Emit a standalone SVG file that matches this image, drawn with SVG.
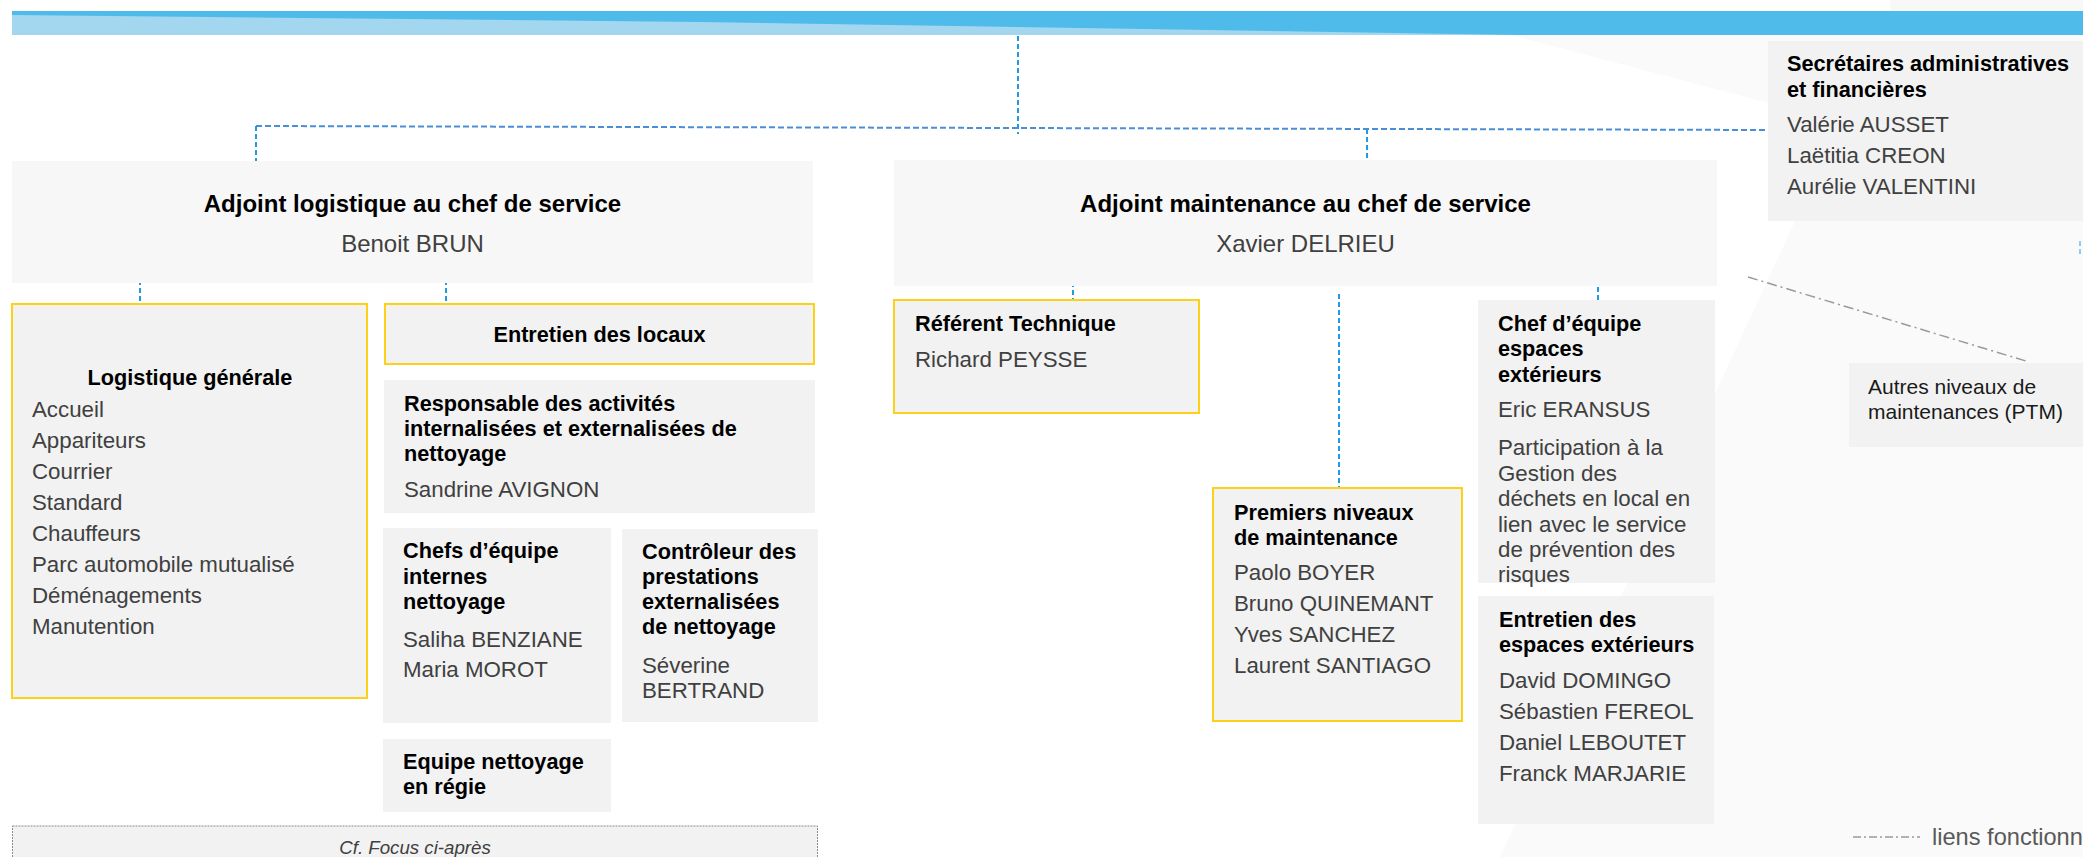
<svg xmlns="http://www.w3.org/2000/svg" width="2083" height="857" viewBox="0 0 2083 857">
<style>
text{font-family:"Liberation Sans",Arial,sans-serif}
.hd{font-size:24px;font-weight:bold;fill:#000}
.hn{font-size:24px;fill:#404040}
.t{font-size:21.7px;font-weight:bold;fill:#000}
.n{font-size:22.3px;fill:#404040}
.box{fill:#f2f2f2}
.main{fill:#f7f7f7}
.ybox{fill:#f2f2f2;stroke:#fcd116;stroke-width:2}
.v{stroke:#1e9be3;stroke-width:2;stroke-dasharray:5 3;fill:none}
.h{stroke:#4a8fd6;stroke-width:2;stroke-dasharray:6 3;fill:none}
.f{stroke:#9a9a9a;stroke-width:1.5;stroke-dasharray:10 4 2 4;fill:none}
.mid{text-anchor:middle}
</style>
<rect width="2083" height="857" fill="#ffffff"/>
<g id="background">
<polygon points="1511,35 2083,35 2083,857 1500,857 1841,122" fill="#fafafa"/>
<polygon points="1890,0 2083,0 2083,11 1890,11" fill="#f8f8f8"/>
</g>
<g id="banner">
<rect x="12" y="11" width="2071" height="24" fill="#a3d7ef"/>
<polygon points="12,11 2083,11 2083,35 1520,35 700,22 12,15" fill="#4ebbea"/>
</g>
<g id="connectors">
<line class="v" x1="1018" y1="36" x2="1018" y2="134"/>
<line class="h" x1="256" y1="126" x2="1768" y2="130"/>
<line class="v" x1="256" y1="126" x2="256" y2="161"/>
<line class="v" x1="1367" y1="129" x2="1367" y2="161"/>
<line class="v" x1="140" y1="280" x2="140" y2="304"/>
<line class="v" x1="446" y1="280" x2="446" y2="303"/>
<line class="v" x1="1073" y1="282" x2="1073" y2="300"/>
<line class="v" x1="1339" y1="294" x2="1339" y2="488"/>
<line class="v" x1="1598" y1="279" x2="1598" y2="300"/>
<line class="v" x1="2080" y1="241" x2="2080" y2="256" style="stroke:#8fcbef"/>
<line class="f" x1="1748" y1="277" x2="2026" y2="361"/>
</g>
<g id="adjoint-logistique">
<rect class="main" x="12" y="161" width="801" height="122"/>
<text class="hd mid" x="412.5" y="212">Adjoint logistique au chef de service</text>
<text class="hn mid" x="412.5" y="252">Benoit BRUN</text>
</g>
<g id="adjoint-maintenance">
<rect class="main" x="894" y="160" width="823" height="126"/>
<text class="hd mid" x="1305.5" y="212">Adjoint maintenance au chef de service</text>
<text class="hn mid" x="1305.5" y="252">Xavier DELRIEU</text>
</g>
<g id="secretaires">
<rect class="box" x="1768" y="41" width="330" height="180"/>
<text class="t" x="1787" y="71">Secrétaires administratives</text>
<text class="t" x="1787" y="97">et financières</text>
<text class="n" x="1787" y="132">Valérie AUSSET</text>
<text class="n" x="1787" y="163">Laëtitia CREON</text>
<text class="n" x="1787" y="194">Aurélie VALENTINI</text>
</g>
<g id="logistique-generale">
<rect class="ybox" x="12" y="304" width="355" height="394"/>
<text class="t mid" x="190" y="385">Logistique générale</text>
<text class="n" x="32" y="417">Accueil</text>
<text class="n" x="32" y="448">Appariteurs</text>
<text class="n" x="32" y="479">Courrier</text>
<text class="n" x="32" y="510">Standard</text>
<text class="n" x="32" y="541">Chauffeurs</text>
<text class="n" x="32" y="572">Parc automobile mutualisé</text>
<text class="n" x="32" y="603">Déménagements</text>
<text class="n" x="32" y="634">Manutention</text>
</g>
<g id="entretien-locaux">
<rect class="ybox" x="385" y="304" width="429" height="60"/>
<text class="t mid" x="599.5" y="342">Entretien des locaux</text>
</g>
<g id="responsable">
<rect class="box" x="384" y="380" width="431" height="133"/>
<text class="t" x="404" y="411">Responsable des activités</text>
<text class="t" x="404" y="436">internalisées et externalisées de</text>
<text class="t" x="404" y="461">nettoyage</text>
<text class="n" x="404" y="497">Sandrine AVIGNON</text>
</g>
<g id="chefs-equipe-internes">
<rect class="box" x="383" y="528" width="228" height="195"/>
<text class="t" x="403" y="558">Chefs d’équipe</text>
<text class="t" x="403" y="584">internes</text>
<text class="t" x="403" y="609">nettoyage</text>
<text class="n" x="403" y="647">Saliha BENZIANE</text>
<text class="n" x="403" y="677">Maria MOROT</text>
</g>
<g id="controleur">
<rect class="box" x="622" y="529" width="196" height="193"/>
<text class="t" x="642" y="559">Contrôleur des</text>
<text class="t" x="642" y="584">prestations</text>
<text class="t" x="642" y="609">externalisées</text>
<text class="t" x="642" y="634">de nettoyage</text>
<text class="n" x="642" y="673">Séverine</text>
<text class="n" x="642" y="698">BERTRAND</text>
</g>
<g id="equipe-regie">
<rect class="box" x="383" y="739" width="228" height="73"/>
<text class="t" x="403" y="769">Equipe nettoyage</text>
<text class="t" x="403" y="794">en régie</text>
</g>
<g id="cf-focus">
<rect x="12.5" y="826" width="805" height="40" fill="#f2f2f2" stroke="#8c8c8c" stroke-width="1" stroke-dasharray="2 1"/>
<text class="mid" x="415" y="854" style="font-size:18.7px;font-style:italic;fill:#404040">Cf. Focus ci-après</text>
</g>
<g id="referent-technique">
<rect class="ybox" x="894" y="300" width="305" height="113"/>
<text class="t" x="915" y="331">Référent Technique</text>
<text class="n" x="915" y="367">Richard PEYSSE</text>
</g>
<g id="premiers-niveaux">
<rect class="ybox" x="1213" y="488" width="249" height="233"/>
<text class="t" x="1234" y="520">Premiers niveaux</text>
<text class="t" x="1234" y="545">de maintenance</text>
<text class="n" x="1234" y="580">Paolo BOYER</text>
<text class="n" x="1234" y="611">Bruno QUINEMANT</text>
<text class="n" x="1234" y="642">Yves SANCHEZ</text>
<text class="n" x="1234" y="673">Laurent SANTIAGO</text>
</g>
<g id="chef-espaces-exterieurs">
<rect class="box" x="1478" y="300" width="237" height="283"/>
<text class="t" x="1498" y="331">Chef d’équipe</text>
<text class="t" x="1498" y="356">espaces</text>
<text class="t" x="1498" y="382">extérieurs</text>
<text class="n" x="1498" y="417">Eric ERANSUS</text>
<text class="n" x="1498" y="455">Participation à la</text>
<text class="n" x="1498" y="481">Gestion des</text>
<text class="n" x="1498" y="506">déchets en local en</text>
<text class="n" x="1498" y="532">lien avec le service</text>
<text class="n" x="1498" y="557">de prévention des</text>
<text class="n" x="1498" y="582">risques</text>
</g>
<g id="entretien-espaces-exterieurs">
<rect class="box" x="1478" y="596" width="236" height="228"/>
<text class="t" x="1499" y="627">Entretien des</text>
<text class="t" x="1499" y="652">espaces extérieurs</text>
<text class="n" x="1499" y="688">David DOMINGO</text>
<text class="n" x="1499" y="719">Sébastien FEREOL</text>
<text class="n" x="1499" y="750">Daniel LEBOUTET</text>
<text class="n" x="1499" y="781">Franck MARJARIE</text>
</g>
<g id="autres-niveaux">
<rect class="box" x="1849" y="363" width="250" height="84"/>
<text x="1868" y="394" style="font-size:21px;fill:#1a1a1a">Autres niveaux de</text>
<text x="1868" y="419" style="font-size:21px;fill:#1a1a1a">maintenances (PTM)</text>
</g>
<g id="legend">
<line class="f" x1="1853" y1="837" x2="1920" y2="837" style="stroke-dasharray:8 3 2 3"/>
<text x="1932" y="845" style="font-size:23.6px;fill:#595959">liens fonctionn</text>
</g>
</svg>
